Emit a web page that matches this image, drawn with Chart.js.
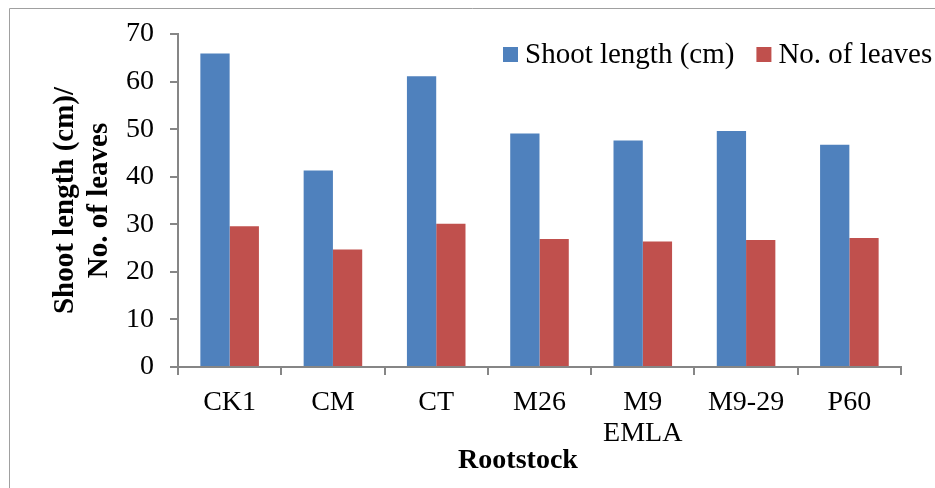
<!DOCTYPE html>
<html>
<head>
<meta charset="utf-8">
<script src="https://cdn.jsdelivr.net/npm/chart.js@4/dist/chart.umd.min.js"></script>
<style>
  html, body { margin: 0; padding: 0; background: #ffffff; }
  #wrap { width: 935px; height: 488px; position: relative; }
</style>
</head>
<body>
<div id="wrap"><canvas id="chart" width="935" height="488"></canvas></div>
<script>
// Rootstock categories (multi-line label for M9 EMLA)
const rootstocks = ['CK1', 'CM', 'CT', 'M26', ['M9', 'EMLA'], 'M9-29', 'P60'];
// Mean shoot length (cm) per rootstock
const shootLength = [65.9, 41.3, 61.1, 49.1, 47.6, 49.6, 46.7];
// Mean number of leaves per rootstock
const leafCount = [29.6, 24.7, 30.1, 26.9, 26.4, 26.7, 27.1];
// Value axis ticks
const yTicks = [0, 10, 20, 30, 40, 50, 60, 70];

const SERIF = '"Liberation Serif", "Times New Roman", serif';
const AXIS_GREY = '#868686';

// Frame, legend and x-axis caption drawn on top of the chart
const decorations = {
  id: 'decorations',
  beforeDraw(chart) {
    const ctx = chart.ctx;
    ctx.save();
    ctx.strokeStyle = '#a0a0a0';
    ctx.lineWidth = 1;
    ctx.beginPath();
    ctx.moveTo(9.5, chart.height);
    ctx.lineTo(9.5, 8.5);
    ctx.lineTo(chart.width, 8.5);
    ctx.stroke();
    ctx.restore();
  },
  afterDraw(chart) {
    const ctx = chart.ctx;
    ctx.save();
    // legend
    ctx.font = '29px ' + SERIF;
    ctx.textBaseline = 'alphabetic';
    ctx.textAlign = 'left';
    let x = 503;
    chart.data.datasets.forEach(ds => {
      ctx.fillStyle = ds.backgroundColor;
      ctx.fillRect(x, 47, 15, 15);
      ctx.fillStyle = '#000000';
      ctx.fillText(ds.label, x + 22, 63);
      x += 22 + ctx.measureText(ds.label).width + 22;
    });
    // x-axis caption
    ctx.font = 'bold 28px ' + SERIF;
    ctx.textAlign = 'center';
    ctx.fillText('Rootstock', 518, 468);
    ctx.restore();
  }
};

new Chart(document.getElementById('chart'), {
  type: 'bar',
  data: {
    labels: rootstocks,
    datasets: [
      {
        label: 'Shoot length (cm)',
        data: shootLength,
        backgroundColor: '#4F81BD',
        categoryPercentage: 0.567,
        barPercentage: 1.0
      },
      {
        label: 'No. of leaves',
        data: leafCount,
        backgroundColor: '#C0504D',
        categoryPercentage: 0.567,
        barPercentage: 1.0
      }
    ]
  },
  options: {
    responsive: false,
    animation: false,
    devicePixelRatio: 1,
    layout: { padding: { left: 0, right: 34, top: 34, bottom: 0 } },
    plugins: {
      legend: { display: false },
      tooltip: { enabled: false }
    },
    scales: {
      x: {
        grid: {
          offset: true,
          drawOnChartArea: false,
          drawTicks: true,
          tickLength: 8,
          color: AXIS_GREY,
          lineWidth: 2
        },
        border: { color: AXIS_GREY, width: 2 },
        ticks: {
          color: '#000000',
          font: { family: SERIF, size: 28, lineHeight: 1.1 },
          padding: 12,
          maxRotation: 0,
          autoSkip: false
        },
        afterFit(scale) { scale.height = 121; }
      },
      y: {
        min: yTicks[0],
        max: yTicks[yTicks.length - 1],
        afterBuildTicks(scale) { scale.ticks = yTicks.map(v => ({ value: v })); },
        grid: {
          drawOnChartArea: false,
          drawTicks: true,
          tickLength: 8,
          color: AXIS_GREY,
          lineWidth: 2
        },
        border: { color: AXIS_GREY, width: 2 },
        ticks: {
          color: '#000000',
          font: { family: SERIF, size: 28 },
          padding: 16
        },
        title: {
          display: true,
          text: ['Shoot length (cm)/', 'No. of leaves'],
          color: '#000000',
          font: { family: SERIF, size: 29, weight: 'bold', lineHeight: 1.15 },
          padding: { top: 49, bottom: 0 }
        },
        afterFit(scale) { scale.width = 178; }
      }
    }
  },
  plugins: [decorations]
});
</script>
</body>
</html>
